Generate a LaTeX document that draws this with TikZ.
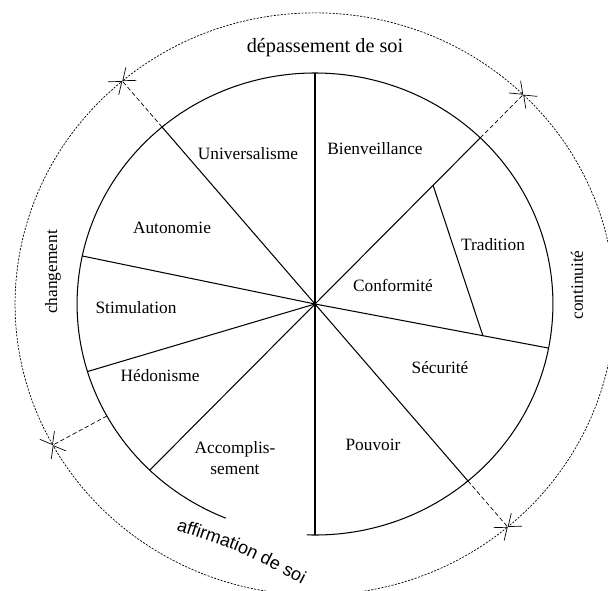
\documentclass[tikz,border=0pt]{standalone}
\usepackage{fontspec}
\setmainfont{Liberation Serif}
\newfontfamily\affirmfont{Liberation Sans}
\usetikzlibrary{arrows.meta}
\usetikzlibrary{decorations.text}
\tikzset{>={Straight Barb[length=2.2mm,width=3.4mm]}}

\begin{document}
\begin{tikzpicture}[
    x = 0.0203cm, y = -0.0203cm,
    spoke/.style = {draw, semithick},
    ring/.style = {draw, semithick},
    rayon/.style = {draw, thin, dash pattern=on 2.5pt off 1.5pt},
    outer/.style = {draw, thin, dash pattern=on 1.2pt off 0.8pt},
    valeur/.style = {font=\fontsize{10}{12}\selectfont, align=center, inner sep=0pt},
    groupe/.style = {font=\fontsize{10}{12}\selectfont, inner sep=0pt}
  ]
  \useasboundingbox (0,0) rectangle (608,591);

  \begin{scope}[shift={(315,304)}, xscale=1.03, yscale=-1]
    \coordinate (O) at (0,0);
    % the ten values
    \foreach \a [count=\j] in {90, 130, 168, 197, 226, 270, 310, 349, 46}
      \draw[spoke] (O) -- (\a:231) coordinate (r\j);
    \draw[ring] (268:231) arc[start angle=268, end angle=608, radius=231];
    \coordinate (t1) at (46:165);
    \coordinate (t2) at (-11:166);
    \draw[spoke] (t1) -- (t2);

    % the four groups
    \foreach \a in {130, 46, 310, 209}
      \draw[rayon] (\a:231) -- (\a:291) coordinate (g\a);
    \draw[outer, <->] (g130) arc[start angle=130, end angle=46, radius=291];
    \draw[outer, <->] (g46) arc[start angle=46, end angle=-50, radius=291];
    \draw[outer, <->] (g310) arc[start angle=310, end angle=209, radius=291];
    \draw[outer, <->] (g209) arc[start angle=209, end angle=130, radius=291];
  \end{scope}

  \node[valeur] (univ) at (248,154) {Universalisme};
  \node[valeur] (bienv) at (375,149) {Bienveillance};
  \node[valeur] (auto) at (172,228) {Autonomie};
  \node[valeur] (stim) at (136,308) {Stimulation};
  \node[valeur] (hedo) at (160,376) {Hédonisme};
  \node[valeur] (accomp) at (235,458) {Accomplis-\\sement};
  \node[valeur] (pouv) at (373,445) {Pouvoir};
  \node[valeur] (secu) at (440,368) {Sécurité};
  \node[valeur] (conf) at (393,285) {Conformité};
  \node[valeur] (trad) at (493,245) {Tradition};

  \node[font=\fontsize{11.7}{14}\selectfont, inner sep=0pt] (depass) at (325,48) {dépassement de soi};
  \node[groupe, rotate=90] (chang) at (53,272) {changement};
  \node[groupe, rotate=90] (conti) at (577,285) {continuité};
  \path[decorate, decoration={text along path, text align=center,
      text={|\affirmfont\fontsize{10.4}{12}\selectfont|affirmation de soi}}]
    (166.5,527) .. controls (238.6,550.3) .. (310.8,588.7);
\end{tikzpicture}
\end{document}
